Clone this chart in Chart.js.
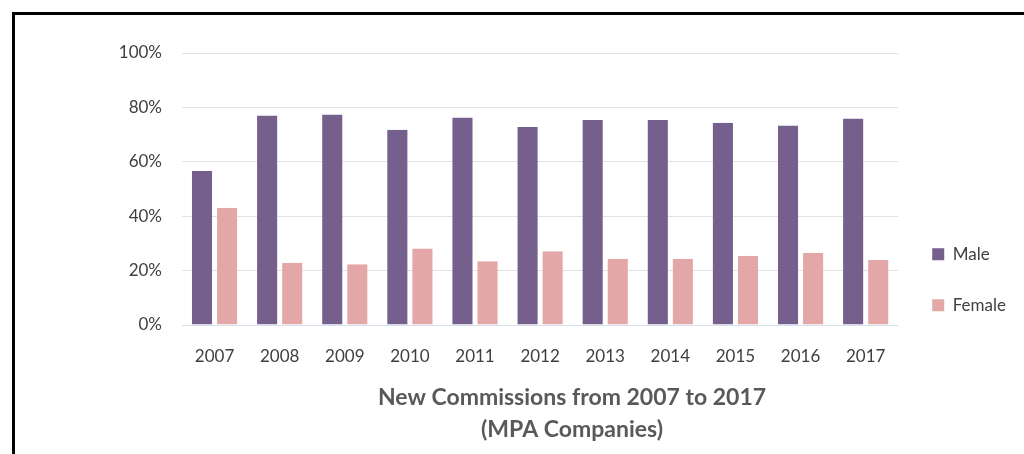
<!DOCTYPE html>
<html>
<head>
<meta charset="utf-8">
<script src="https://cdn.jsdelivr.net/npm/chart.js@4/dist/chart.umd.min.js"></script>
<style>
    html, body { margin: 0; padding: 0; background: #ffffff; overflow: hidden; }
    .chart-wrap { position: relative; width: 1024px; height: 454px; }
    .frame {
        position: absolute; left: 12px; top: 12px; right: 0; bottom: 0;
        border-left: 3px solid #000; border-top: 3px solid #000;
        pointer-events: none;
    }
    canvas { position: absolute; left: 0; top: 0; }
</style>
</head>
<body>
<div class="chart-wrap">
    <canvas id="commissionsChart" width="1024" height="454"></canvas>
    <div class="frame"></div>
</div>
<script>
const years = ['2007', '2008', '2009', '2010', '2011', '2012', '2013', '2014', '2015', '2016', '2017'];
const maleShare = [56.6, 77.0, 77.4, 71.8, 76.3, 72.8, 75.4, 75.4, 74.4, 73.3, 75.9];
const femaleShare = [43.1, 22.9, 22.3, 28.1, 23.4, 27.1, 24.4, 24.4, 25.5, 26.6, 23.9];
const titleLines = ['New Commissions from 2007 to 2017', '(MPA Companies)'];

const FONT = 'Lato, "Open Sans", sans-serif';

// bottom caption, centred under the plot + legend block
const captionPlugin = {
    id: 'caption',
    afterDraw(chart, args, opts) {
        const ctx = chart.ctx;
        ctx.save();
        ctx.font = `bold ${opts.size}px ${FONT}`;
        ctx.fillStyle = opts.color;
        ctx.textAlign = 'center';
        ctx.textBaseline = 'alphabetic';
        opts.lines.forEach((line, i) => {
            ctx.fillText(line, opts.x, opts.y + i * opts.lineGap);
        });
        ctx.restore();
    }
};

new Chart(document.getElementById('commissionsChart'), {
    type: 'bar',
    data: {
        labels: years,
        datasets: [
            {
                label: 'Male',
                data: maleShare,
                backgroundColor: '#755f8d',
                borderColor: 'rgba(0,0,0,0)',
                borderWidth: { left: 2.5, right: 2.5, top: 0, bottom: 0 }
            },
            {
                label: 'Female',
                data: femaleShare,
                backgroundColor: '#e2a7a6',
                borderColor: 'rgba(0,0,0,0)',
                borderWidth: { left: 2.5, right: 2.5, top: 0, bottom: 0 }
            }
        ]
    },
    options: {
        responsive: false,
        animation: false,
        datasets: {
            bar: { categoryPercentage: 0.77, barPercentage: 1 }
        },
        layout: { padding: { top: 53, right: 8, bottom: 0, left: 0 } },
        scales: {
            x: {
                grid: { display: false },
                border: { display: false },
                ticks: {
                    color: '#404040',
                    font: { family: FONT, size: 17 },
                    padding: 13,
                    maxRotation: 0
                },
                afterFit(scale) { scale.height = 129; }
            },
            y: {
                min: 0,
                max: 100,
                grid: {
                    drawTicks: false,
                    color: ctx => ctx.tick && ctx.tick.value === 0 ? '#d6e0ee' : '#e2e2e2',
                    lineWidth: 1
                },
                border: { display: false },
                ticks: {
                    stepSize: 20,
                    padding: 20,
                    color: '#404040',
                    font: { family: FONT, size: 17 },
                    callback: v => v + '%'
                },
                afterFit(scale) { scale.width = 182; }
            }
        },
        plugins: {
            legend: {
                position: 'right',
                title: { display: true, text: '', padding: { top: 0, bottom: 38 } },
                labels: {
                    boxWidth: 12,
                    boxHeight: 12,
                    padding: 34,
                    color: '#404040',
                    font: { family: FONT, size: 17 }
                }
            },
            tooltip: { enabled: false },
            caption: {
                lines: titleLines,
                x: 572,
                y: 405,
                lineGap: 32,
                size: 23,
                color: '#595959'
            }
        }
    },
    plugins: [captionPlugin]
});
</script>
</body>
</html>
